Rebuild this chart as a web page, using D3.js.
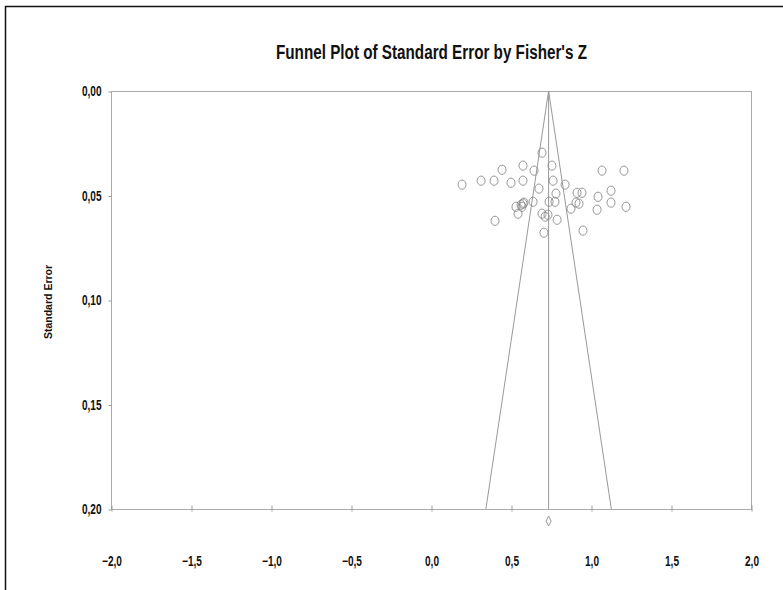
<!DOCTYPE html>
<html>
<head>
<meta charset="utf-8">
<script src="https://cdn.jsdelivr.net/npm/d3@7"></script>
<style>
  body { margin: 0; background: #fff; }
  svg { display: block; }
  text { font-family: "Liberation Sans", Arial, sans-serif; font-weight: bold; fill: #111; }
</style>
</head>
<body>
<div id="chart"></div>
<script>
  /* <!-- Chart data --> */
  var fisherZ = [0.194, 0.313, 0.394, 0.444, 0.500, 0.575, 0.575, 0.644, 0.694, 0.675,
    0.638, 0.531, 0.544, 0.563, 0.575, 0.581, 0.569, 0.400, 0.694, 0.713,
    0.731, 0.706, 0.756, 0.763, 0.838, 0.781, 0.738, 0.775, 0.913, 0.944,
    0.906, 0.925, 0.875, 1.069, 1.206, 1.125, 1.044, 1.125, 1.038, 1.219,
    0.788, 0.950];
  var stdError = [0.0448, 0.0429, 0.0429, 0.0377, 0.0439, 0.0357, 0.0429, 0.0381, 0.0295, 0.0467,
    0.0530, 0.0554, 0.0587, 0.0544, 0.0539, 0.0534, 0.0554, 0.0621, 0.0587, 0.0601,
    0.0592, 0.0678, 0.0357, 0.0429, 0.0448, 0.0491, 0.0530, 0.0530, 0.0487, 0.0487,
    0.0534, 0.0539, 0.0563, 0.0381, 0.0381, 0.0477, 0.0506, 0.0534, 0.0568, 0.0554,
    0.0616, 0.0668];
  var combinedZ = 0.735;
  var funnelMaxSE = 0.20;
  var xTicks = [-2.0, -1.5, -1.0, -0.5, 0.0, 0.5, 1.0, 1.5, 2.0];
  var yTicks = [0.00, 0.05, 0.10, 0.15, 0.20];
  var titleText = "Funnel Plot of Standard Error by Fisher's Z";
  var yTitleText = "Standard Error";

  var width = 783, height = 590;
  var margin = { top: 91, right: 32, bottom: 81, left: 111 };
  var grey = "#999";

  var svg = d3.select("#chart").append("svg")
    .attr("width", width).attr("height", height);

  /* <!-- outer frame (only left and top edges show) --> */
  svg.append("path")
    .attr("d", `M5.5,${height}V6.5H${width}`)
    .attr("fill", "none").attr("stroke", "#111").attr("stroke-width", 1.5);

  var x = d3.scaleLinear().domain([-2, 2]).range([margin.left, width - margin.right]);
  var y = d3.scaleLinear().domain([0, 0.2]).range([margin.top, height - margin.bottom]);
  var fmt = (d, p) => d3.format("." + p + "f")(d).replace(".", ",");

  /* <!-- squeeze text horizontally, like a narrow face --> */
  var narrow = (sel, k) => sel.each(function() {
    var t = d3.select(this), tx = +t.attr("x") || 0;
    t.attr("x", tx / k).attr("transform", `scale(${k},1)`);
  });

  /* <!-- plot box --> */
  svg.append("rect")
    .attr("x", x(-2) + 0.5).attr("y", y(0) + 0.5)
    .attr("width", x(2) - x(-2)).attr("height", y(0.2) - y(0))
    .attr("fill", "none").attr("stroke", "#aaa");

  /* <!-- axes --> */
  var yAxis = svg.append("g").attr("transform", `translate(${x(-2) + 0.5},0.5)`)
    .call(d3.axisLeft(y).tickValues(yTicks).tickSize(3).tickPadding(7).tickFormat(d => fmt(d, 2)));
  var xAxis = svg.append("g").attr("transform", `translate(0.5,${y(0.2) + 0.5})`)
    .call(d3.axisBottom(x).tickValues(xTicks).tickSize(3).tickPadding(44).tickFormat(d => fmt(d, 1)));
  [yAxis, xAxis].forEach(a => {
    a.attr("font-family", null).attr("font-size", null);
    a.select(".domain").remove();
    a.selectAll(".tick line").attr("stroke", grey);
    a.selectAll(".tick text").attr("fill", "#111").style("font-size", "14px").call(narrow, 0.72);
  });
  xAxis.selectAll(".tick line").attr("y1", -4).attr("y2", 2);

  /* <!-- funnel --> */
  var funnel = svg.append("g").attr("fill", "none").attr("stroke", grey).attr("stroke-width", 1);
  funnel.append("path")
    .attr("d", d3.line()([
      [x(combinedZ - 1.96 * funnelMaxSE), y(funnelMaxSE)],
      [x(combinedZ), y(0)],
      [x(combinedZ + 1.96 * funnelMaxSE), y(funnelMaxSE)]
    ]));
  funnel.append("line")
    .attr("x1", x(combinedZ)).attr("x2", x(combinedZ))
    .attr("y1", y(0)).attr("y2", y(funnelMaxSE));

  /* <!-- studies --> */
  svg.append("g").selectAll("ellipse")
    .data(d3.range(fisherZ.length))
    .enter().append("ellipse")
    .attr("cx", i => x(fisherZ[i])).attr("cy", i => y(stdError[i]))
    .attr("rx", 4).attr("ry", 4.6)
    .attr("fill", "none").attr("stroke", "#8a8a8a").attr("stroke-width", 0.9);

  /* <!-- combined effect diamond --> */
  var dx = x(combinedZ), dy = y(funnelMaxSE) + 12;
  svg.append("path")
    .attr("d", `M${dx},${dy - 5}L${dx + 2.5},${dy}L${dx},${dy + 5}L${dx - 2.5},${dy}Z`)
    .attr("fill", "none").attr("stroke", grey);

  /* <!-- titles --> */
  svg.append("text")
    .attr("x", 276).attr("y", 59)
    .attr("textLength", 311).attr("lengthAdjust", "spacingAndGlyphs")
    .style("font-size", "20px").text(titleText);
  svg.append("text")
    .attr("transform", `translate(51.5,302) rotate(-90)`)
    .attr("text-anchor", "middle")
    .style("font-size", "10.5px").text(yTitleText);
</script>
</body>
</html>
